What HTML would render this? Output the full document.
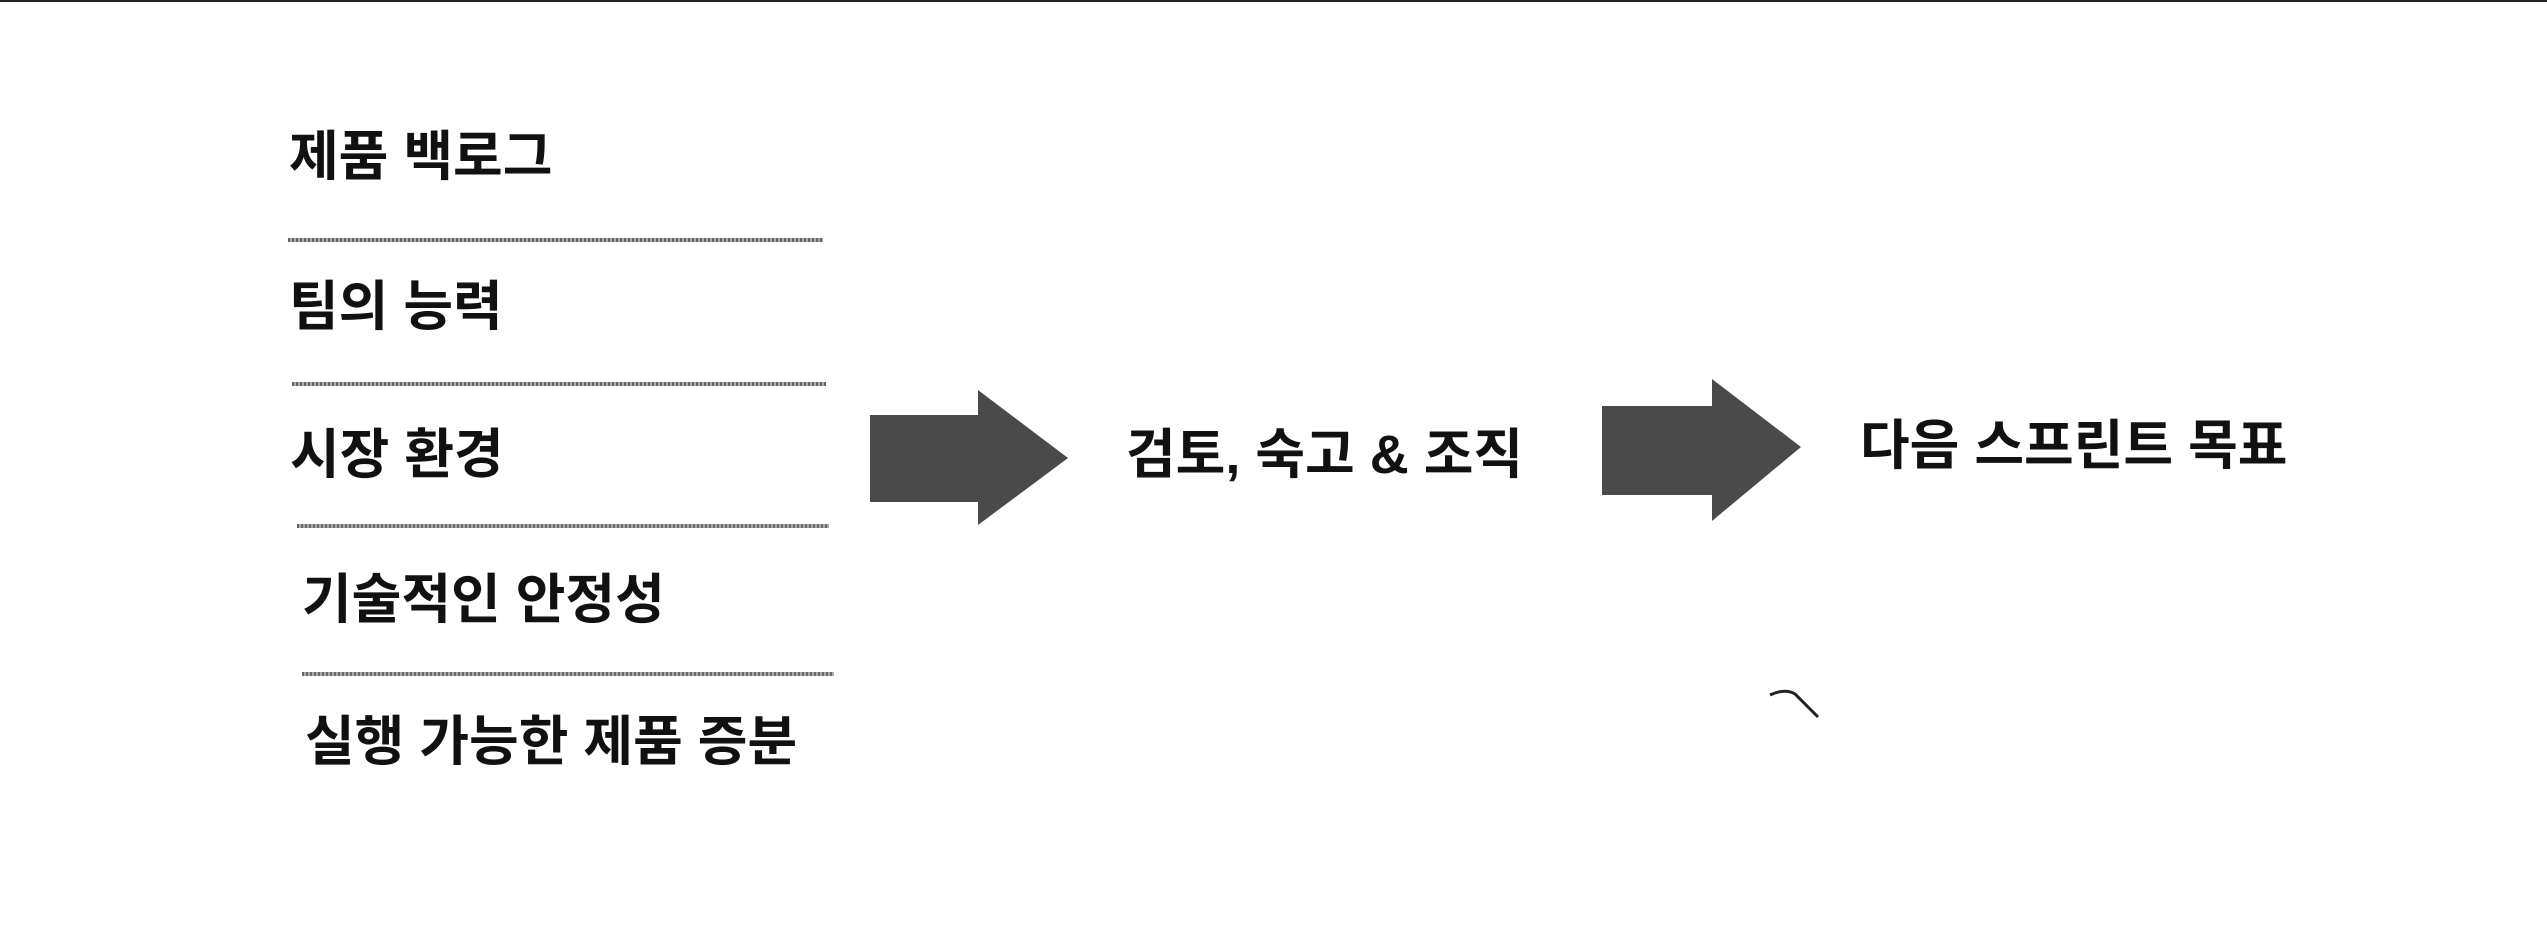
<!DOCTYPE html>
<html><head><meta charset="utf-8"><style>
html,body{margin:0;padding:0;background:#fff;}
body{width:2547px;height:929px;position:relative;overflow:hidden;}
.t{position:absolute;font-family:"Liberation Sans","Noto Sans CJK KR",sans-serif;font-size:54px;font-weight:700;color:#111;white-space:nowrap;line-height:1;transform-origin:left center;}
.l{position:absolute;height:4px;background:repeating-linear-gradient(90deg,#666 0 2px,#aaa 2px 4px);}
</style></head><body>
<div style="position:absolute;left:0;top:0;width:2547px;height:2px;background:#222"></div>
<div class="t" style="left:289px;top:130px;">제품 백로그</div>
<div class="l" style="left:288px;top:238px;width:535px"></div>
<div class="t" style="left:289px;top:280px;">팀의 능력</div>
<div class="l" style="left:292px;top:382px;width:534px"></div>
<div class="t" style="left:290px;top:428px;">시장 환경</div>
<div class="l" style="left:297px;top:524px;width:532px"></div>
<div class="t" style="left:302px;top:573px;">기술적인 안정성</div>
<div class="l" style="left:302px;top:672px;width:532px"></div>
<div class="t" style="left:305px;top:715px;">실행 가능한 제품 증분</div>
<svg style="position:absolute;left:0;top:0" width="2547" height="929">
<polygon points="870,415 978,415 978,390 1068,458 978,525 978,502 870,502" fill="#4a4a4a"/>
<polygon points="1602,406 1712,406 1712,379 1801,447 1712,521 1712,495 1602,495" fill="#4a4a4a"/>
<path d="M1770,695 Q1785,688 1795,694 L1818,717" stroke="#222" stroke-width="3" fill="none"/>
</svg>
<div class="t" style="left:1126px;top:428px;">검토, 숙고 &amp; 조직</div>
<div class="t" style="left:1860px;top:419px;">다음 스프린트 목표</div>
</body></html>
